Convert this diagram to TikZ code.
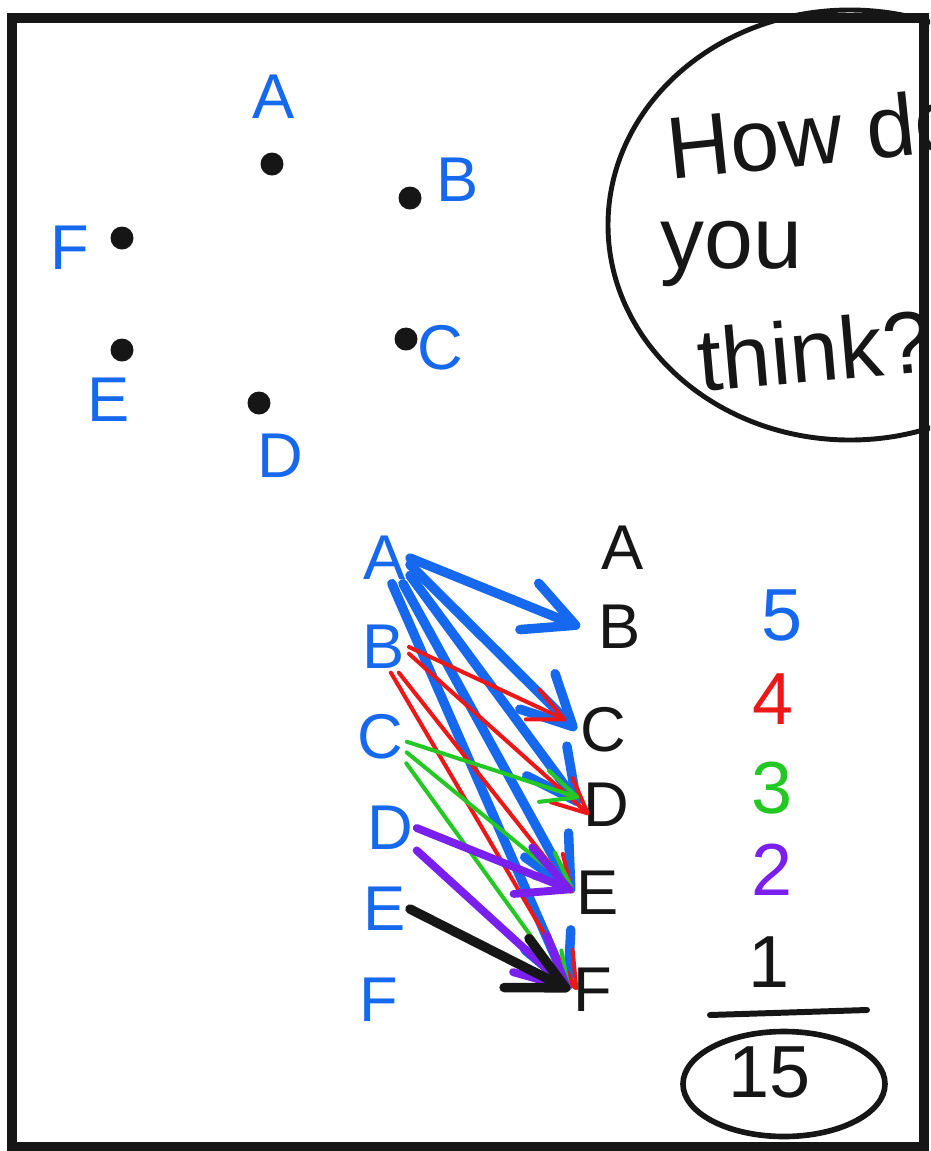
\documentclass[tikz,border=0pt]{standalone}
\usepackage{fontspec}
\setmainfont{Liberation Sans}
\usetikzlibrary{arrows.meta, shapes.geometric}
\definecolor{inkblue}{RGB}{22,104,238}
\definecolor{inkred}{RGB}{236,24,24}
\definecolor{inkgreen}{RGB}{36,200,36}
\definecolor{inkpurple}{RGB}{122,32,238}
\definecolor{inkblack}{RGB}{22,22,22}

\begin{document}
\begin{tikzpicture}[
  x=0.2mm, y=-0.2mm,
  dot/.style={circle, fill=inkblack, inner sep=0pt, minimum width=4.6mm, minimum height=4.2mm},
  lab/.style={text=inkblue, inner sep=2pt, font=\fontsize{36}{40}\selectfont},
  src/.style={text=inkblue, inner sep=2pt, font=\fontsize{36}{40}\selectfont},
  tgt/.style={text=inkblack, inner sep=2pt, font=\fontsize{36}{40}\selectfont},
  num/.style={inner sep=2pt, font=\fontsize{42}{46}\selectfont},
  ask/.style={inner sep=0pt, text=inkblack, font=\fontsize{50}{56}\selectfont},
  bubble/.style={draw=inkblack, ellipse, line width=2.8pt, minimum width=9.68cm, minimum height=8.6cm},
  ring/.style={draw=inkblack, ellipse, line width=3.2pt, minimum width=4.04cm, minimum height=2.1cm},
  frame/.style={draw=inkblack, line width=5.7pt},
  sumline/.style={draw=inkblack, line width=3.4pt, line cap=round},
  bluearr/.style={draw=inkblue, line width=5.4pt, line cap=round, -{Straight Barb[length=10mm, width=10mm, round]}},
  redarr/.style={draw=inkred, line width=2.3pt, line cap=round, -{Straight Barb[length=7mm, width=6.5mm, round]}},
  greenarr/.style={draw=inkgreen, line width=2.3pt, line cap=round, -{Straight Barb[length=7mm, width=6.5mm, round]}},
  purplearr/.style={draw=inkpurple, line width=4.5pt, line cap=round, -{Straight Barb[length=10mm, width=10mm, round]}},
  blackarr/.style={draw=inkblack, line width=5.4pt, line cap=round, -{Straight Barb[length=11mm, width=11mm, round]}},
]
\useasboundingbox (0,0) rectangle (930,1151);
\clip (0,0) rectangle (930,1151);

% --- Speech bubble (cut off by the frame) ---
\node[bubble] (bubble) at (850,225) {};
\node[ask, anchor=base west, rotate=6] (q1) at (670,180) {How do};
\node[ask, anchor=base west] (q2) at (660,268) {you};
\node[ask, anchor=base west, rotate=5] (q3) at (700,392) {think?};

% --- Six points ---
\node[dot] (pA) at (272,164) {};
\node[dot] (pB) at (410,198) {};
\node[dot] (pC) at (406,339) {};
\node[dot] (pD) at (259,403) {};
\node[dot] (pE) at (122,350) {};
\node[dot] (pF) at (122,238) {};
\node[lab] (lA) at (274,97) {A};
\node[lab] (lB) at (458,180) {B};
\node[lab] (lC) at (440,348) {C};
\node[lab] (lD) at (280,456) {D};
\node[lab] (lE) at (109,400) {E};
\node[lab] (lF) at (70,248) {F};

% --- Columns of letters ---
\node[src] (sA) at (385,558) {A};
\node[src] (sB) at (384,647) {B};
\node[src] (sC) at (380,737) {C};
\node[src] (sD) at (390,828) {D};
\node[src] (sE) at (385,909) {E};
\node[src] (sF) at (379,1000) {F};
\node[tgt] (tA) at (623,548) {A};
\node[tgt] (tB) at (620,627) {B};
\node[tgt] (tC) at (603,730) {C};
\node[tgt] (tD) at (606,805) {D};
\node[tgt] (tE) at (598,893) {E};
\node[tgt] (tF) at (593,990) {F};

% --- Handshakes ---
\draw[bluearr] (sA.east) -- ([xshift=-3mm]tB.west);
\draw[bluearr] (sA.-15) -- (tC.west);
\draw[bluearr] (sA.-35) -- (tD.west);
\draw[bluearr] (sA.-55) -- (tE.west);
\draw[bluearr] (sA.-75) -- (tF.west);
\draw[redarr] (sB.east) -- ([xshift=-2mm]tC.160);
\draw[redarr] (sB.-15) -- ([xshift=2mm]tD.200);
\draw[redarr] (sB.-60) -- (tE.west);
\draw[redarr] (sB.-75) -- ([xshift=1.5mm]tF.west);
\draw[greenarr] (sC.-10) -- (tD.165);
\draw[greenarr] (sC.-30) -- (tE.170);
\draw[greenarr] (sC.-45) -- (tF.west);
\draw[purplearr] (sD.east) -- (tE.175);
\draw[purplearr] (sD.-40) -- (tF.west);
\draw[blackarr] (sE.east) -- (tF.west);

% --- Count ---
\node[num, text=inkblue] (n5) at (782,615) {5};
\node[num, text=inkred] (n4) at (773,699) {4};
\node[num, text=inkgreen] (n3) at (772,788) {3};
\node[num, text=inkpurple] (n2) at (772,870) {2};
\node[num, text=inkblack] (n1) at (769,962) {1};
\draw[sumline] (710,1015) -- (867,1010);
\node[ring] (ring) at (784,1084) {};
\node[num, text=inkblack] (sum) at (770,1072) {15};

% --- Frame ---
\draw[frame] (12,18) rectangle (924,1147);

\end{tikzpicture}
\end{document}
